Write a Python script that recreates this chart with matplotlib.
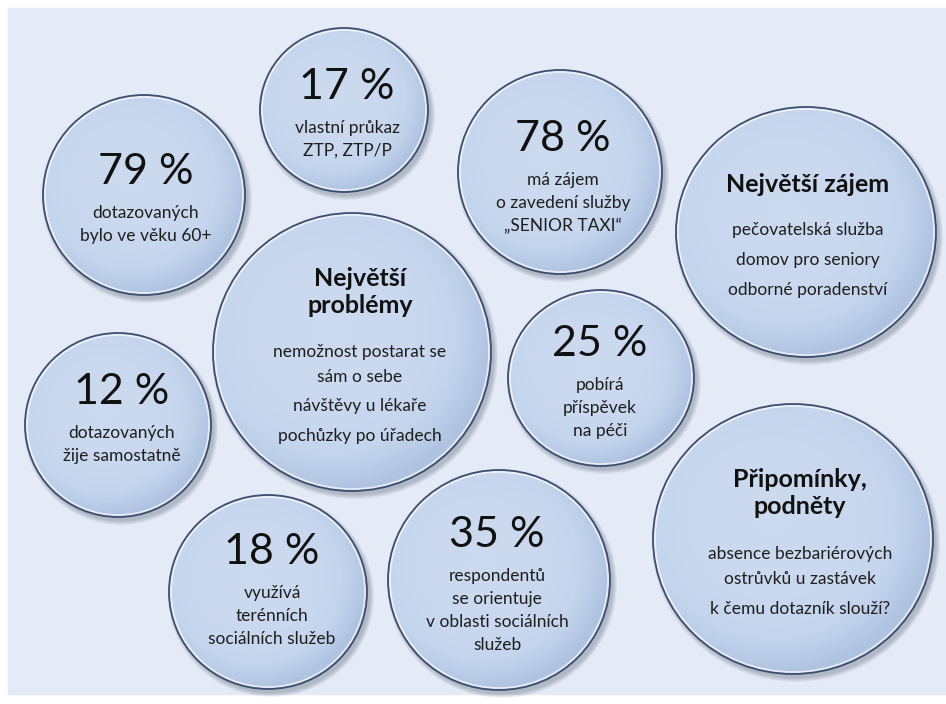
import numpy as np
import matplotlib.pyplot as plt
from matplotlib.patches import Ellipse, Rectangle
from matplotlib.colors import LinearSegmentedColormap

plt.rcParams["font.family"] = ["Lato", "DejaVu Sans"]

# --- data ---------------------------------------------------------------
pct_values = [79, 17, 78, 25, 12, 18, 35]
pct_texts = [
    ["dotazovaných", "bylo ve věku 60+"],
    ["vlastní průkaz", "ZTP, ZTP/P"],
    ["má zájem", "o zavedení služby", "„SENIOR TAXI“"],
    ["pobírá", "příspěvek", "na péči"],
    ["dotazovaných", "žije samostatně"],
    ["využívá", "terénních", "sociálních služeb"],
    ["respondentů", "se orientuje", "v oblasti sociálních", "služeb"],
]

titles = ["Největší zájem", "Největší\nproblémy", "Připomínky,\npodněty"]
title_items = [
    ["pečovatelská služba", "domov pro seniory", "odborné poradenství"],
    ["nemožnost postarat se\nsám o sebe", "návštěvy u lékaře", "pochůzky po úřadech"],
    ["absence bezbariérových\nostrůvků u zastávek", "k čemu dotazník slouží?"],
]

# --- layout (pixels): cx, cy, rx, ry, text x, headline y -----------------
pct_layout = [
    (144, 195, 101, 100, 146, 172),
    (344, 110, 84, 82, 347, 87),
    (560, 172, 102, 102, 563, 139),
    (601, 378, 93, 88, 600, 344),
    (118, 425, 93, 92, 122, 392),
    (268, 592, 99, 97, 272, 552),
    (499, 580, 111, 110, 497, 535),
]
title_layout = [
    (806, 232, 130, 125, 808, 185, 230),
    (352, 352, 139, 139, 360, 292, 352),
    (793, 539, 140, 135, 800, 493, 554),
]

W, H = 946, 704
BG = "#E4EAF6"
EDGE = "#3E4E70"
cmap = LinearSegmentedColormap.from_list("bub", ["#CCDAF0", "#C4D5ED", "#AFC3E1"])

fig = plt.figure(figsize=(W / 100, H / 100), dpi=100)
ax = fig.add_axes([0, 0, 1, 1])
ax.set_xlim(0, W)
ax.set_ylim(H, 0)
ax.axis("off")
ax.add_patch(Rectangle((8, 8), W - 8, 686, color=BG, zorder=0))


def bubble(cx, cy, rx, ry):
    # soft shadow
    for k in range(6):
        ax.add_patch(Ellipse((cx + 3, cy + 4), 2 * (rx + k * 0.8), 2 * (ry + k * 0.8),
                             color="#303a50", alpha=0.05, lw=0, zorder=1))
    ell = Ellipse((cx, cy), 2 * rx, 2 * ry, facecolor="none", edgecolor="none", zorder=2)
    ax.add_patch(ell)
    yy, xx = np.mgrid[-1:1:200j, -1:1:200j]
    t = np.sqrt((xx + 0.15) ** 2 + (yy + 0.15) ** 2) / 1.15
    im = ax.imshow(np.clip(t, 0, 1) ** 2.5, extent=(cx - rx, cx + rx, cy + ry, cy - ry),
                   cmap=cmap, vmin=0, vmax=1, zorder=2, aspect="auto", interpolation="bilinear")
    im.set_clip_path(ell)
    ax.add_patch(Ellipse((cx, cy), 2 * rx - 4, 2 * ry - 4, fill=False,
                         edgecolor="white", lw=1.2, alpha=0.7, zorder=3))
    ax.add_patch(Ellipse((cx, cy), 2 * rx, 2 * ry, fill=False,
                         edgecolor=EDGE, lw=1.3, zorder=3))


for val, lines, (cx, cy, rx, ry, tx, hy) in zip(pct_values, pct_texts, pct_layout):
    bubble(cx, cy, rx, ry)
    ax.text(tx, hy, f"{val} %", ha="center", va="center", fontsize=31,
            color="#111111", zorder=4)
    for i, line in enumerate(lines):
        ax.text(tx, hy + 41 + i * 23, line, ha="center", va="center",
                fontsize=12.5, color="#1e1e1e", zorder=4)

for title, items, (cx, cy, rx, ry, tx, ty, iy) in zip(titles, title_items, title_layout):
    bubble(cx, cy, rx, ry)
    ax.text(tx, ty, title, ha="center", va="center", fontsize=18, fontweight="bold",
            color="#111111", linespacing=1.25, zorder=4)
    y = iy
    for item in items:
        for line in item.split("\n"):
            ax.text(tx, y, line, ha="center", va="center", fontsize=12.5,
                    color="#1e1e1e", zorder=4)
            y += 24.5
        y += 5.5

fig.savefig("out.png", dpi=100, facecolor="white")
